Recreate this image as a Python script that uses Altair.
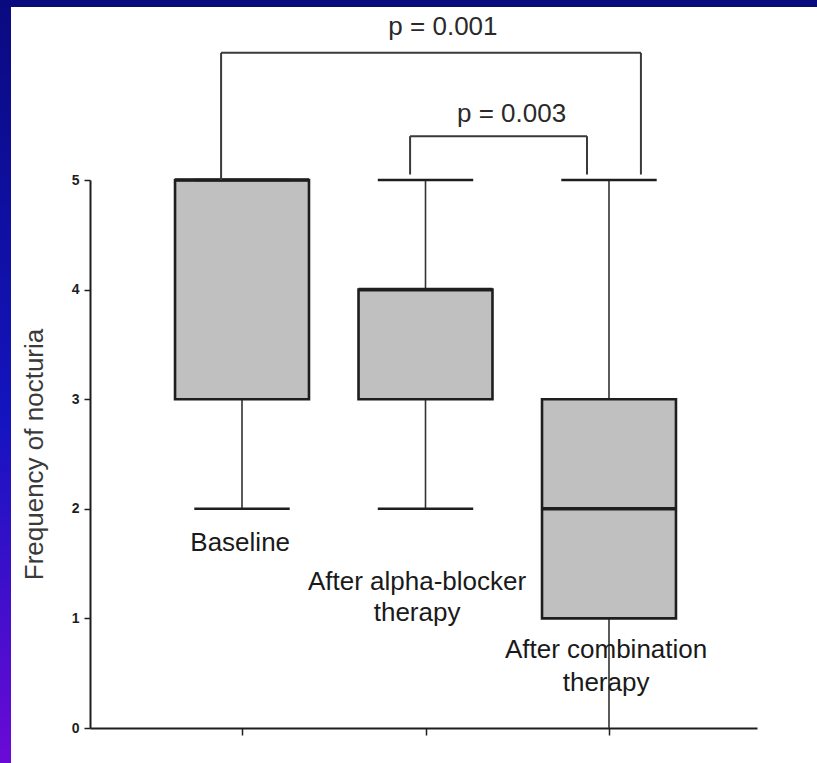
import altair as alt
import pandas as pd

# ---- data ----
groups = ["Baseline", "After alpha-blocker therapy", "After combination therapy"]
positions = [1, 2, 3]
mins = [2, 2, 0]
q1s = [3, 3, 1]
medians = [5, 4, 2]
q3s = [5, 4, 3]
maxs = [5, 5, 5]

# category annotation text (drawn inside the plot as in the reference)
label_lines = ["Baseline", "After alpha-blocker", "therapy", "After combination", "therapy"]
label_x = [0.99, 1.954, 1.954, 2.984, 2.984]
label_y = [1.69, 1.33, 1.05, 0.71, 0.41]

# significance brackets
p_texts = ["p = 0.001", "p = 0.003"]
p_text_x = [2.095, 2.469]
p_text_y = [6.32, 5.53]
br_left = [0.886, 1.916]
br_right = [3.174, 2.880]
br_top = [6.16, 5.40]
br_left_bottom = [5.0, 5.05]
br_right_bottom = [5.05, 5.05]

y_ticks = [0, 1, 2, 3, 4, 5]
x_ticks = [1, 2, 3]

BOX_HALF = 0.365
CAP_HALF = 0.26
FONT = "Liberation Sans"
DARK = "#1e1e1e"

box_df = pd.DataFrame({
    "group": groups, "pos": positions, "lo": mins, "q1": q1s,
    "med": medians, "q3": q3s, "hi": maxs,
})
lab_df = pd.DataFrame({"text": label_lines, "x": label_x, "y": label_y})
p_df = pd.DataFrame({"text": p_texts, "x": p_text_x, "y": p_text_y})

segs = []
for l, r, t, lb, rb in zip(br_left, br_right, br_top, br_left_bottom, br_right_bottom):
    segs.append({"x": l, "x2": r, "y": t, "y2": t})
    segs.append({"x": l, "x2": l, "y": lb, "y2": t})
    segs.append({"x": r, "x2": r, "y": rb, "y2": t})
seg_df = pd.DataFrame(segs)

xs = alt.Scale(domain=[0.1716, 3.8066], nice=False, zero=False)
ys = alt.Scale(domain=[0, 5], nice=False, zero=False)

base = alt.Chart(box_df)

X = alt.X("pos:Q", scale=xs,
          axis=alt.Axis(values=x_ticks, labels=False, title=None, grid=False,
                        tickSize=7, tickWidth=1.5, tickColor=DARK,
                        domainColor=DARK, domainWidth=2))
Y_axis = alt.Axis(values=y_ticks, format="d", grid=False, title="Frequency of nocturia",
                  titleFont=FONT, titleFontSize=26, titleFontWeight="normal",
                  titleColor="#3a3a3a", titlePadding=24,
                  labelFont=FONT, labelFontSize=14, labelFontWeight="bold",
                  labelColor=DARK, labelPadding=5,
                  tickSize=6, tickWidth=1.5, tickColor=DARK,
                  domainColor=DARK, domainWidth=2)

whisk_lo = base.mark_rule(color="#333333", strokeWidth=1.6).encode(
    x=X, y=alt.Y("lo:Q", scale=ys, axis=Y_axis), y2="q1:Q")
whisk_hi = base.mark_rule(color="#333333", strokeWidth=1.6).encode(
    x="pos:Q", y=alt.Y("q3:Q", scale=ys), y2="hi:Q")

caps_lo = base.transform_filter("datum.lo > 0").transform_calculate(
    a=f"datum.pos - {CAP_HALF}", b=f"datum.pos + {CAP_HALF}"
).mark_rule(color=DARK, strokeWidth=2.5).encode(
    x=alt.X("a:Q", scale=xs), x2="b:Q", y=alt.Y("lo:Q", scale=ys))
caps_hi = base.transform_calculate(
    a=f"datum.pos - {CAP_HALF}", b=f"datum.pos + {CAP_HALF}"
).mark_rule(color=DARK, strokeWidth=2.5).encode(
    x=alt.X("a:Q", scale=xs), x2="b:Q", y=alt.Y("hi:Q", scale=ys))

boxes = base.transform_calculate(
    a=f"datum.pos - {BOX_HALF}", b=f"datum.pos + {BOX_HALF}"
).mark_rect(fill="#c0c0c0", stroke=DARK, strokeWidth=2.6).encode(
    x=alt.X("a:Q", scale=xs), x2="b:Q",
    y=alt.Y("q1:Q", scale=ys), y2="q3:Q")

medians_m = base.transform_calculate(
    a=f"datum.pos - {BOX_HALF}", b=f"datum.pos + {BOX_HALF}"
).mark_rule(color=DARK, strokeWidth=3.6).encode(
    x=alt.X("a:Q", scale=xs), x2="b:Q", y=alt.Y("med:Q", scale=ys))

brackets = alt.Chart(seg_df).mark_rule(color="#3a3a3a", strokeWidth=2).encode(
    x=alt.X("x:Q", scale=xs), x2="x2:Q",
    y=alt.Y("y:Q", scale=ys), y2="y2:Q")

p_labels = alt.Chart(p_df).mark_text(
    font=FONT, fontSize=26, color="#2a2a2a", align="center", baseline="alphabetic"
).encode(x=alt.X("x:Q", scale=xs), y=alt.Y("y:Q", scale=ys), text="text:N")

cat_labels = alt.Chart(lab_df).mark_text(
    font=FONT, fontSize=26, color="#1a1a1a", align="center", baseline="middle"
).encode(x=alt.X("x:Q", scale=xs), y=alt.Y("y:Q", scale=ys), text="text:N")

# decorative slide frame (top navy band, left gradient band)
frame_df = pd.DataFrame({"k": [0]})
grad = alt.LinearGradient(
    gradient="linear",
    stops=[alt.GradientStop(color="#0a0a80", offset=0),
           alt.GradientStop(color="#1414c0", offset=0.55),
           alt.GradientStop(color="#6a0ad6", offset=1)],
    x1=0, x2=0, y1=0, y2=1)
left_band = alt.Chart(frame_df).mark_rect(fill=grad).encode(
    x=alt.value(-90), x2=alt.value(-79), y=alt.value(-180), y2=alt.value(583))
top_band = alt.Chart(frame_df).mark_rect(fill="#0a0a80").encode(
    x=alt.value(-90), x2=alt.value(727), y=alt.value(-180), y2=alt.value(-173))

chart = alt.layer(
    whisk_lo, whisk_hi, boxes, medians_m, caps_lo, caps_hi,
    brackets, p_labels, cat_labels, left_band, top_band
).properties(
    width=667, height=548,
    padding={"left": 90, "top": 180, "right": 60, "bottom": 35},
    autosize=alt.AutoSizeParams(type="none"),
    background="white",
).configure_view(stroke="transparent")

chart.save("out.html", embed_options={"renderer": "svg", "actions": False})
